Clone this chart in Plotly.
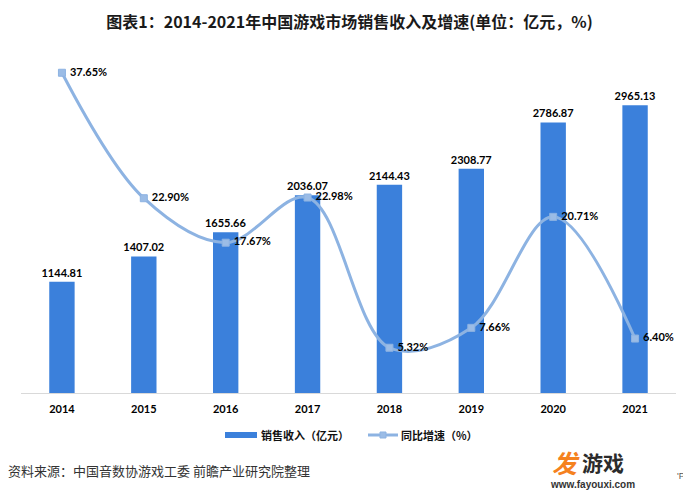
import plotly.graph_objects as go

years = ["2014", "2015", "2016", "2017", "2018", "2019", "2020", "2021"]
revenue = [1144.81, 1407.02, 1655.66, 2036.07, 2144.43, 2308.77, 2786.87, 2965.13]
growth = [37.65, 22.90, 17.67, 22.98, 5.32, 7.66, 20.71, 6.40]

title_text = "图表1：2014-2021年中国游戏市场销售收入及增速(单位：亿元，%)"
source_text = "资料来源：中国音数协游戏工委 前瞻产业研究院整理"
bar_name = "销售收入（亿元）"
line_name = "同比增速（%）"

OFF = 8  # page body margin
W, H = 691 - OFF, 496 - OFF
# plot area in page coordinates: x 21..676, y 60..393
L, T = 21 - OFF, 60 - OFF
R = W - (676 - OFF)
B = H - (393 - OFF)
PW, PH = W - L - R, H - T - B

def px(x):
    return (x - OFF - L) / PW

def py(y):
    return (H - B - (y - OFF)) / PH

BAR_C = "#3B80DB"
LINE_C = "#8DB3E2"
LBL = dict(family="Lato, 'Noto Sans CJK SC', sans-serif", size=11, color="#000000")
CJK = "'Noto Sans CJK SC', sans-serif"

fig = go.Figure()
fig.add_trace(go.Bar(
    x=years, y=revenue, name=bar_name,
    marker=dict(color=BAR_C, line=dict(width=0)),
    text=[f"<b>{v:.2f}</b>" for v in revenue],
    textposition="outside", textfont=LBL, cliponaxis=False,
    constraintext="none",
    yaxis="y",
))
fig.add_trace(go.Scatter(
    x=years, y=growth, name=line_name, yaxis="y2",
    mode="lines+markers+text",
    line=dict(color=LINE_C, width=3, shape="spline", smoothing=1.0),
    marker=dict(symbol="square", size=7, color="#9BBCE6", line=dict(color=LINE_C, width=1)),
    text=[f"<b> {v:.2f}%</b>" for v in growth],
    textposition="middle right", textfont=LBL, cliponaxis=False,
))

fig.update_layout(
    width=W, height=H,
    paper_bgcolor="white", plot_bgcolor="white",
    margin=dict(l=L, r=R, t=T, b=B, autoexpand=False),
    bargap=0.69,
    showlegend=False,
    title=dict(text=f"<b>{title_text}</b>", x=0.5, xanchor="center",
               y=1 - (22 - OFF) / H, yanchor="middle",
               font=dict(family=CJK, size=16, color="#1a1a1a")),
    xaxis=dict(showgrid=False, showline=True, linecolor="#D9D9D9", linewidth=1,
               ticks="", tickfont=dict(family="Lato, sans-serif", size=11, color="#000000"),
               ticklabelstandoff=6, automargin=False, fixedrange=True),
    yaxis=dict(range=[0, 3430], showgrid=False, showticklabels=False, zeroline=False,
               showline=False, automargin=False),
    yaxis2=dict(range=[0, 39.15], overlaying="y", side="right", showgrid=False,
                showticklabels=False, zeroline=False, showline=False, automargin=False),
)

fig.update_xaxes(tickmode="array", tickvals=years, ticktext=[f"<b>{y}</b>" for y in years])

# manual legend
ly = 435
fig.add_shape(type="rect", xref="paper", yref="paper",
              x0=px(225), x1=px(257), y0=py(438), y1=py(432),
              fillcolor=BAR_C, line=dict(width=0))
fig.add_annotation(text=f"<b>{bar_name}</b>", xref="paper", yref="paper", x=px(259), xanchor="left",
                   y=py(ly), yanchor="middle", showarrow=False,
                   font=dict(family=CJK, size=11, color="#111111"))
fig.add_shape(type="line", xref="paper", yref="paper",
              x0=px(368), x1=px(398), y0=py(ly), y1=py(ly),
              line=dict(color=LINE_C, width=3))
fig.add_shape(type="rect", xref="paper", yref="paper",
              x0=px(380), x1=px(386), y0=py(ly + 3), y1=py(ly - 3),
              fillcolor="#9BBCE6", line=dict(color=LINE_C, width=1))
fig.add_annotation(text=f"<b>{line_name}</b>", xref="paper", yref="paper", x=px(399), xanchor="left",
                   y=py(ly), yanchor="middle", showarrow=False,
                   font=dict(family=CJK, size=11, color="#111111"))

fig.add_annotation(text=source_text, xref="paper", yref="paper", x=px(6), xanchor="left",
                   y=py(470), yanchor="middle", showarrow=False,
                   font=dict(family=CJK, size=13, color="#333333"))
fig.add_annotation(text="<b><i>发</i></b>", xref="paper", yref="paper", x=px(566), xanchor="center",
                   y=py(462), yanchor="middle", showarrow=False,
                   font=dict(family=CJK, size=25, color="#F5821F"))
fig.add_annotation(text="<b>游戏</b>", xref="paper", yref="paper", x=px(603), xanchor="center",
                   y=py(462), yanchor="middle", showarrow=False,
                   font=dict(family=CJK, size=21, color="#2b2b2b"))
fig.add_annotation(text="<b>www.fayouxi.com</b>", xref="paper", yref="paper", x=px(592), xanchor="center",
                   y=py(484), yanchor="middle", showarrow=False,
                   font=dict(family="'Liberation Sans Narrow', 'Liberation Sans', sans-serif", size=10, color="#333333"))
fig.add_annotation(text="'P", xref="paper", yref="paper", x=px(677), xanchor="left",
                   y=py(476), yanchor="middle", showarrow=False, xshift=-2,
                   font=dict(family="Liberation Sans, sans-serif", size=9, color="#555555"))

fig.write_html("out.html")
